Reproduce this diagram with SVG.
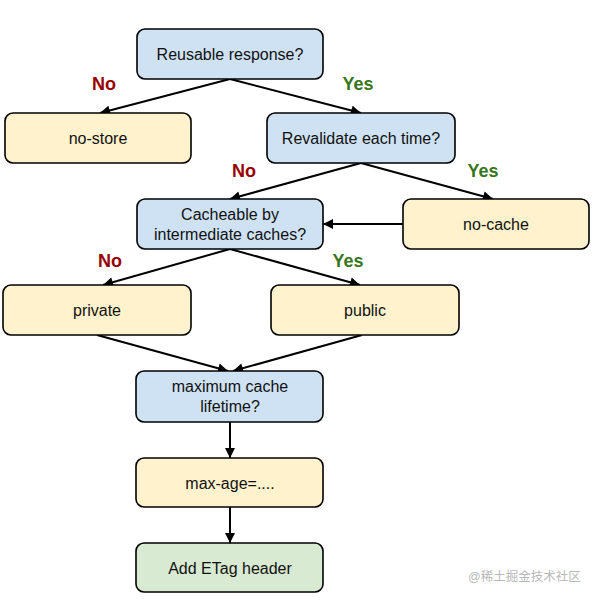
<svg xmlns="http://www.w3.org/2000/svg" width="595" height="600" viewBox="0 0 595 600">
<style>
.box{stroke:#000;stroke-width:1.6}
.q{fill:#cfe2f3}.a{fill:#fff2cc}.g{fill:#d9ead3}
text{font-family:"Liberation Sans",Arial,sans-serif;font-size:16px;fill:#111;text-anchor:middle}
.no{fill:#990000;font-weight:bold;font-size:18px}
.yes{fill:#38761d;font-weight:bold;font-size:18px}
.wm{fill:#b8b8b8;font-size:12.5px;font-family:"Liberation Sans","Noto Sans CJK SC",sans-serif;text-anchor:start}
.c line{stroke:#000;stroke-width:2;marker-end:url(#ah)}
</style>
<defs>
<marker id="ah" viewBox="0 0 10 10" refX="10" refY="5" markerWidth="12" markerHeight="10" orient="auto" markerUnits="userSpaceOnUse">
<path d="M0,0 L10,5 L0,10 z" fill="#000"/>
</marker>
</defs>
<rect width="595" height="600" fill="#fff"/>
<g class="c">
<line x1="230" y1="79" x2="100" y2="113"/>
<line x1="230" y1="79" x2="361" y2="113"/>
<line x1="361" y1="163" x2="230" y2="199"/>
<line x1="361" y1="163" x2="493" y2="199"/>
<line x1="403" y1="224" x2="323" y2="224"/>
<line x1="230" y1="249" x2="103" y2="285"/>
<line x1="230" y1="249" x2="360" y2="285"/>
<line x1="97" y1="335" x2="228" y2="371"/>
<line x1="362" y1="335" x2="233" y2="371"/>
<line x1="230" y1="422" x2="230" y2="458"/>
<line x1="230" y1="507" x2="230" y2="543"/>
</g>
<g id="reusable"><rect class="box q" x="137" y="29" width="186" height="50" rx="8"/><text x="230" y="60">Reusable response?</text></g>
<g id="nostore"><rect class="box a" x="5" y="113" width="186" height="50" rx="8"/><text x="98" y="144">no-store</text></g>
<g id="revalidate"><rect class="box q" x="267" y="113" width="188" height="50" rx="8"/><text x="361" y="144">Revalidate each time?</text></g>
<g id="cacheable"><rect class="box q" x="137" y="199" width="186" height="50" rx="8"/><text x="230" y="220">Cacheable by</text><text x="230" y="240">intermediate caches?</text></g>
<g id="nocache"><rect class="box a" x="403" y="199" width="186" height="50" rx="8"/><text x="496" y="230">no-cache</text></g>
<g id="private"><rect class="box a" x="3" y="285" width="188" height="50" rx="8"/><text x="97" y="316">private</text></g>
<g id="public"><rect class="box a" x="271" y="285" width="188" height="50" rx="8"/><text x="365" y="316">public</text></g>
<g id="lifetime"><rect class="box q" x="136" y="371" width="187" height="51" rx="8"/><text x="230" y="392">maximum cache</text><text x="230" y="412">lifetime?</text></g>
<g id="maxage"><rect class="box a" x="136" y="458" width="187" height="49" rx="8"/><text x="230" y="489">max-age=....</text></g>
<g id="etag"><rect class="box g" x="136" y="543" width="187" height="49" rx="8"/><text x="230" y="574">Add ETag header</text></g>
<g id="labels">
<text class="no" x="104" y="90">No</text>
<text class="yes" x="358" y="90">Yes</text>
<text class="no" x="244" y="177">No</text>
<text class="yes" x="483" y="177">Yes</text>
<text class="no" x="110" y="267">No</text>
<text class="yes" x="348" y="267">Yes</text>
</g>
<text class="wm" x="468" y="581">@稀土掘金技术社区</text>
</svg>
